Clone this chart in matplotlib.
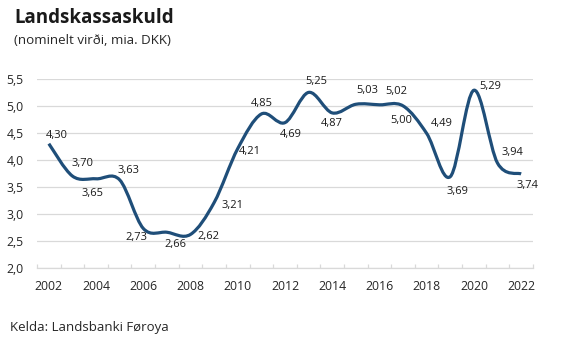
from matplotlib import pyplot as plt
from matplotlib.path import Path
from matplotlib.patches import PathPatch
import numpy as np

plt.rcParams['font.family'] = ['Open Sans', 'DejaVu Sans']

# Data
years = [2002, 2003, 2004, 2005, 2006, 2007, 2008, 2009, 2010, 2011, 2012,
         2013, 2014, 2015, 2016, 2017, 2018, 2019, 2020, 2021, 2022]
debt = [4.30, 3.70, 3.65, 3.63, 2.73, 2.66, 2.62, 3.21, 4.21, 4.85, 4.69,
        5.25, 4.87, 5.03, 5.02, 5.00, 4.49, 3.69, 5.29, 3.94, 3.74]
year_ticks = list(range(2002, 2023, 2))

# label offsets in pixels (dx, dy) relative to each point, as in the original
label_offsets = [(8, 8), (10, 13), (-4, -15), (9, 9), (-7, -9), (9, -12),
                 (18, -2), (18, -3), (12, -3), (0, 10), (6, -12), (8, 11),
                 (0, -11), (11, 14), (17, 13), (-2, -15), (15, 10), (7, -15),
                 (16, 4), (15, 11), (6, -12)]

line_color = '#1f4e79'
grid_color = '#d9d9d9'
text_color = '#262626'


def smooth_path(x, y):
    # Excel-like smoothed line: cubic bezier segments through every point
    x = np.asarray(x, float)
    y = np.asarray(y, float)
    n = len(x)
    verts = [(x[0], y[0])]
    codes = [Path.MOVETO]
    for i in range(n - 1):
        p0 = np.array([x[max(i - 1, 0)], y[max(i - 1, 0)]])
        p1 = np.array([x[i], y[i]])
        p2 = np.array([x[i + 1], y[i + 1]])
        p3 = np.array([x[min(i + 2, n - 1)], y[min(i + 2, n - 1)]])
        c1 = p1 + (p2 - p0) / 6.0
        c2 = p2 - (p3 - p1) / 6.0
        verts += [tuple(c1), tuple(c2), tuple(p2)]
        codes += [Path.CURVE4] * 3
    return Path(verts, codes)


fig = plt.figure(figsize=(5.61, 3.43), dpi=100)
ax = fig.add_axes([0.066, 0.219, 0.884, 0.551])

patch = PathPatch(smooth_path(years, debt), fill=False, edgecolor=line_color,
                  linewidth=2.3, capstyle='butt', joinstyle='round', zorder=3)
ax.add_patch(patch)

ax.set_xlim(2001.5, 2022.5)
ax.set_ylim(2.0, 5.5)

yt = np.arange(2.0, 5.51, 0.5)
ax.set_yticks(yt)
ax.set_yticklabels([f'{v:.1f}'.replace('.', ',') for v in yt])
ax.set_xticks(year_ticks)
ax.set_xticklabels([str(y) for y in year_ticks])
ax.set_xticks(np.arange(2001.5, 2023, 1), minor=True)

ax.grid(axis='y', color=grid_color, linewidth=0.9)
ax.set_axisbelow(True)
for s in ['top', 'right', 'left']:
    ax.spines[s].set_visible(False)
ax.spines['bottom'].set_color(grid_color)
ax.spines['bottom'].set_linewidth(0.9)

ax.tick_params(axis='y', length=0, pad=9.5, labelsize=8.8, labelcolor=text_color)
ax.tick_params(axis='x', which='major', length=0, pad=9, labelsize=8.8,
               labelcolor=text_color)
ax.tick_params(axis='x', which='minor', length=3, direction='in',
               color=grid_color, width=0.9)

# data labels
for x, y, (dx, dy) in zip(years, debt, label_offsets):
    ax.annotate(f'{y:.2f}'.replace('.', ','), (x, y), xytext=(dx * 0.72, dy * 0.72),
                textcoords='offset points', ha='center', va='center',
                fontsize=8, color='#1a1a1a')

fig.text(14 / 561, 1 - 18 / 343, 'Landskassaskuld', fontsize=13.5,
         fontweight='bold', color='#1a1a1a', va='center', ha='left')
fig.text(14 / 561, 1 - 40 / 343, '(nominelt virði, mia. DKK)', fontsize=9.6,
         color='#262626', va='center', ha='left')
fig.text(10 / 561, 1 - 328 / 343, 'Kelda: Landsbanki Føroya', fontsize=9.5,
         color='#262626', va='center', ha='left')

fig.savefig('out.png', dpi=100)
